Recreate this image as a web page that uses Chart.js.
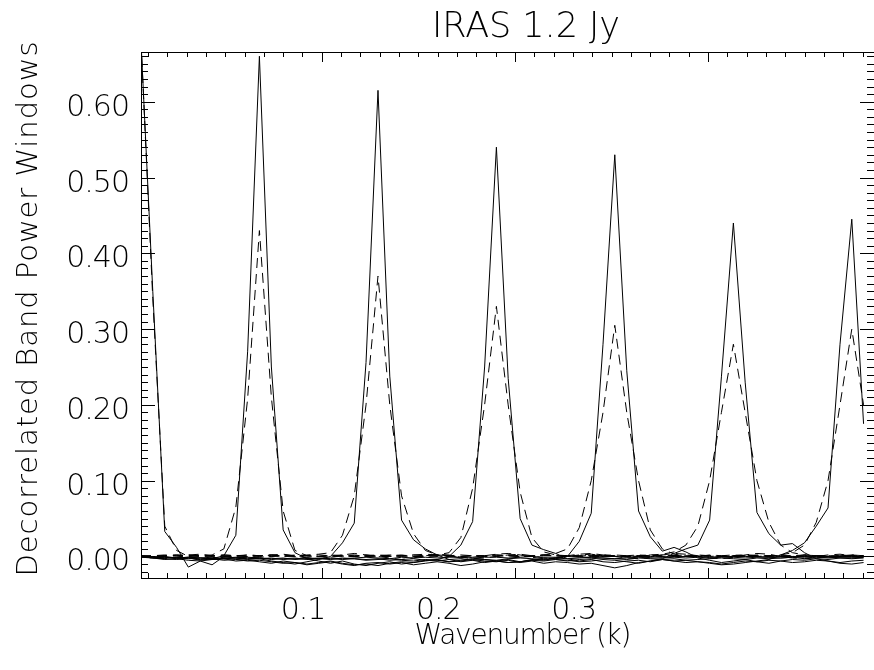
<!DOCTYPE html>
<html>
<head>
<meta charset="utf-8">
<script src="https://cdn.jsdelivr.net/npm/chart.js@4.4.1/dist/chart.umd.min.js"></script>
<style>
  html, body { margin: 0; padding: 0; background: #fff; }
  canvas { display: block; }
</style>
</head>
<body>
<canvas id="windowsChart" width="874" height="670"></canvas>
<script>
// wavenumber grid (k) of the band power windows
const kVals = [
  0.0064, 0.0125, 0.0187, 0.0248, 0.0309, 0.0371, 0.0432, 0.0493, 0.0555, 0.0616,
  0.0677, 0.0739, 0.0800, 0.0861, 0.0923, 0.0984, 0.1045, 0.1107, 0.1168, 0.1229,
  0.1291, 0.1352, 0.1413, 0.1475, 0.1536, 0.1597, 0.1659, 0.1720, 0.1781, 0.1843,
  0.1904, 0.1965, 0.2027, 0.2088, 0.2149, 0.2211, 0.2272, 0.2333, 0.2395, 0.2456,
  0.2517, 0.2579, 0.2640, 0.2701, 0.2763, 0.2824, 0.2885, 0.2947, 0.3008, 0.3069,
  0.3131, 0.3192, 0.3253, 0.3315, 0.3376, 0.3437, 0.3499, 0.3560, 0.3621, 0.3683,
  0.3744, 0.3805
];

// decorrelated windows (solid)
const solidW0 = [
  0.680, 0.350, 0.033, 0.012, -0.014, -0.006, -0.011, 0.000, -0.002, -0.003,
  -0.002, -0.004, -0.003, -0.002, -0.004, -0.003, -0.002, -0.003, -0.002, -0.001,
  -0.002, -0.003, -0.001, -0.002, -0.001, -0.002, -0.001, -0.001, -0.002, -0.001,
  -0.001, -0.002, -0.001, 0.000, -0.001, -0.001, 0.000, -0.001, -0.001, 0.000,
  0.000, -0.001, 0.000, 0.000, -0.001, 0.000, 0.000, 0.000, -0.001, 0.000,
  0.000, 0.000, 0.000, -0.001, 0.000, 0.000, 0.000, 0.000, 0.000, 0.000,
  0.000, 0.000
];
const solidW1 = [
  0.000, -0.002, -0.003, -0.004, -0.002, -0.005, -0.003, 0.001, 0.028, 0.270,
  0.660, 0.250, 0.035, 0.005, -0.003, -0.006, -0.009, -0.006, -0.010, -0.012,
  -0.009, -0.007, -0.010, -0.008, -0.006, -0.004, -0.007, -0.005, -0.003, -0.004,
  -0.005, -0.003, -0.002, -0.003, -0.004, -0.002, -0.003, -0.002, -0.001, -0.002,
  -0.003, -0.002, -0.001, -0.002, -0.002, -0.001, -0.002, -0.001, -0.002, -0.001,
  -0.001, -0.002, -0.001, -0.001, -0.002, -0.001, -0.001, -0.001, -0.002, -0.001,
  -0.001, -0.001
];
const solidW2 = [
  0.000, -0.001, -0.002, -0.001, -0.003, -0.002, -0.004, -0.003, -0.002, -0.004,
  -0.003, -0.006, -0.008, -0.010, -0.007, -0.004, 0.000, 0.018, 0.044, 0.256,
  0.615, 0.238, 0.048, 0.022, 0.010, 0.002, -0.004, -0.007, -0.005, -0.008,
  -0.006, -0.004, -0.007, -0.005, -0.003, -0.004, -0.006, -0.004, -0.003, -0.002,
  -0.003, -0.004, -0.002, -0.003, -0.004, -0.006, -0.005, -0.007, -0.008, -0.010,
  -0.008, -0.006, -0.007, -0.005, -0.006, -0.008, -0.007, -0.005, -0.006, -0.009,
  -0.010, -0.008
];
const solidW3 = [
  -0.001, -0.002, -0.001, -0.003, -0.002, -0.004, -0.003, -0.005, -0.004, -0.006,
  -0.005, -0.007, -0.009, -0.008, -0.010, -0.008, -0.006, -0.009, -0.011, -0.010,
  -0.012, -0.009, -0.007, -0.008, -0.005, -0.004, 0.000, 0.015, 0.046, 0.250,
  0.540, 0.235, 0.050, 0.015, 0.009, 0.004, -0.003, -0.006, -0.004, -0.007,
  -0.008, -0.006, -0.005, -0.007, -0.004, -0.003, -0.005, -0.004, -0.003, -0.002,
  -0.003, -0.004, -0.002, -0.003, -0.002, -0.001, -0.003, -0.002, -0.001, -0.002,
  -0.002, -0.001
];
const solidW4 = [
  0.000, -0.002, -0.004, -0.003, -0.005, -0.006, -0.004, -0.003, -0.006, -0.005,
  -0.007, -0.009, -0.006, -0.008, -0.011, -0.009, -0.007, -0.010, -0.012, -0.009,
  -0.008, -0.010, -0.008, -0.011, -0.009, -0.007, -0.009, -0.012, -0.010, -0.007,
  -0.006, -0.008, -0.007, -0.004, -0.005, -0.002, 0.000, 0.020, 0.057, 0.280,
  0.530, 0.245, 0.060, 0.026, 0.007, 0.012, 0.006, -0.002, -0.005, -0.008,
  -0.006, -0.004, -0.007, -0.009, -0.006, -0.004, -0.005, -0.003, -0.004, -0.002,
  -0.003, -0.002
];
const solidW5 = [
  -0.001, 0.000, -0.001, -0.002, -0.001, -0.002, -0.001, -0.003, -0.002, -0.001,
  -0.002, -0.003, -0.002, -0.004, -0.003, -0.002, -0.003, -0.004, -0.003, -0.005,
  -0.004, -0.003, -0.005, -0.006, -0.004, -0.005, -0.007, -0.006, -0.004, -0.006,
  -0.007, -0.005, -0.008, -0.006, -0.009, -0.007, -0.008, -0.010, -0.009, -0.012,
  -0.015, -0.012, -0.008, -0.006, -0.003, 0.004, 0.010, 0.015, 0.048, 0.237,
  0.440, 0.230, 0.058, 0.030, 0.015, 0.017, 0.005, -0.003, -0.006, -0.008,
  -0.006, -0.005
];
const solidW6 = [
  0.000, -0.001, 0.000, -0.002, -0.001, -0.002, -0.003, -0.002, -0.001, -0.002,
  -0.003, -0.002, -0.004, -0.003, -0.002, -0.003, -0.004, -0.002, -0.003, -0.004,
  -0.003, -0.005, -0.004, -0.003, -0.005, -0.006, -0.004, -0.003, -0.005, -0.004,
  -0.006, -0.008, -0.007, -0.005, -0.006, -0.004, -0.005, -0.007, -0.006, -0.004,
  -0.005, -0.007, -0.009, -0.006, -0.004, -0.006, -0.008, -0.007, -0.009, -0.011,
  -0.010, -0.008, -0.006, -0.004, 0.002, 0.008, 0.018, 0.040, 0.064, 0.280,
  0.445, 0.175
];

// comparison windows (dashed)
const dashW0 = [
  0.680, 0.340, 0.040, 0.008, 0.000, -0.004, -0.002, -0.001, 0.001, 0.000,
  -0.001, 0.000, 0.001, 0.000, -0.001, 0.000, 0.001, 0.000, 0.000, 0.001,
  0.000, 0.000, 0.001, 0.000, 0.000, 0.001, 0.000, 0.000, 0.001, 0.000,
  0.000, 0.001, 0.000, 0.000, 0.001, 0.001, 0.000, 0.001, 0.000, 0.000,
  0.001, 0.000, 0.001, 0.001, 0.000, 0.001, 0.000, 0.001, 0.001, 0.000,
  0.001, 0.001, 0.000, 0.001, 0.001, 0.000, 0.001, 0.001, 0.000, 0.001,
  0.001, 0.001
];
const dashW1 = [
  0.000, 0.001, 0.000, -0.001, 0.000, 0.001, 0.002, 0.010, 0.065, 0.208,
  0.430, 0.210, 0.060, 0.008, 0.001, 0.000, -0.001, 0.001, 0.002, 0.000,
  0.001, 0.002, 0.001, 0.000, 0.001, 0.002, 0.001, 0.000, 0.001, 0.001,
  0.002, 0.001, 0.000, 0.001, 0.002, 0.001, 0.001, 0.000, 0.001, 0.002,
  0.001, 0.000, 0.001, 0.001, 0.002, 0.001, 0.000, 0.001, 0.001, 0.000,
  0.001, 0.002, 0.001, 0.000, 0.001, 0.001, 0.000, 0.001, 0.001, 0.000,
  0.001, 0.001
];
const dashW2 = [
  0.001, 0.000, 0.001, 0.002, 0.001, 0.000, 0.001, 0.002, 0.001, 0.000,
  0.001, 0.002, 0.000, 0.001, 0.002, 0.003, 0.005, 0.028, 0.080, 0.200,
  0.370, 0.200, 0.080, 0.030, 0.008, 0.002, 0.001, -0.002, -0.001, 0.001,
  0.003, 0.004, 0.002, -0.001, -0.003, -0.002, 0.001, 0.003, 0.004, 0.002,
  0.000, -0.002, -0.003, -0.001, 0.002, 0.004, 0.003, 0.001, -0.002, -0.003,
  -0.001, 0.002, 0.004, 0.003, 0.000, -0.002, -0.003, 0.000, 0.002, 0.003,
  0.001, -0.001
];
const dashW3 = [
  0.000, 0.001, 0.002, 0.001, 0.000, 0.002, 0.001, 0.000, 0.001, 0.002,
  0.001, 0.000, 0.002, 0.001, 0.001, 0.000, 0.002, 0.001, 0.000, 0.001,
  0.002, 0.001, 0.000, 0.002, 0.003, 0.002, 0.005, 0.025, 0.090, 0.200,
  0.330, 0.200, 0.085, 0.025, 0.006, 0.002, 0.001, 0.000, 0.002, 0.001,
  0.000, 0.001, 0.002, 0.001, 0.000, 0.001, 0.002, 0.001, 0.000, 0.001,
  0.002, 0.001, 0.000, 0.001, 0.001, 0.000, 0.002, 0.001, 0.001, 0.000,
  0.001, 0.001
];
const dashW4 = [
  0.001, 0.000, 0.001, 0.002, 0.001, 0.001, 0.000, 0.002, 0.001, 0.000,
  0.001, 0.002, 0.001, 0.000, 0.001, 0.002, 0.001, 0.001, 0.000, 0.002,
  0.001, 0.000, 0.001, 0.002, 0.001, 0.000, 0.001, 0.002, 0.001, 0.000,
  0.001, 0.002, 0.001, 0.000, 0.002, 0.004, 0.010, 0.038, 0.100, 0.190,
  0.305, 0.190, 0.100, 0.035, 0.010, 0.003, 0.001, 0.000, 0.002, 0.001,
  0.000, 0.001, 0.002, 0.001, 0.000, 0.001, 0.002, 0.001, 0.000, 0.001,
  0.002, 0.001
];
const dashW5 = [
  0.000, -0.002, -0.003, -0.001, 0.002, 0.003, 0.001, -0.002, -0.004, -0.003,
  0.000, 0.002, 0.003, 0.001, -0.002, -0.003, -0.001, 0.002, 0.004, 0.002,
  0.000, -0.002, -0.004, -0.002, 0.001, 0.003, 0.002, -0.001, -0.003, -0.002,
  0.000, 0.002, 0.003, 0.001, -0.002, -0.003, 0.000, 0.002, 0.003, 0.001,
  0.002, 0.001, 0.000, 0.002, 0.003, 0.006, 0.015, 0.040, 0.100, 0.190,
  0.280, 0.190, 0.100, 0.045, 0.015, 0.005, 0.002, 0.001, 0.000, 0.001,
  0.002, 0.001
];
const dashW6 = [
  0.001, 0.000, 0.001, 0.001, 0.002, 0.000, 0.001, 0.001, 0.000, 0.002,
  0.001, 0.001, 0.000, 0.002, 0.001, 0.000, 0.001, 0.002, 0.001, 0.000,
  0.001, 0.001, 0.002, 0.000, 0.001, 0.002, 0.001, 0.000, 0.001, 0.001,
  0.002, 0.001, 0.000, 0.001, 0.002, 0.001, 0.000, 0.001, 0.001, 0.002,
  0.001, 0.000, 0.001, 0.002, 0.001, 0.001, 0.000, 0.002, 0.001, 0.000,
  0.001, 0.002, 0.001, 0.000, 0.002, 0.005, 0.015, 0.045, 0.100, 0.200,
  0.300, 0.200
];

const yTickLabels = ['0.00', '0.10', '0.20', '0.30', '0.40', '0.50', '0.60'];
const xTickLabels = ['0.1', '0.2', '0.3'];

const solidWindows = [solidW0, solidW1, solidW2, solidW3, solidW4, solidW5, solidW6];
const dashWindows = [dashW0, dashW1, dashW2, dashW3, dashW4, dashW5, dashW6];

const FONT = '"DejaVu Sans", sans-serif';

function makeSet(vals, dashed) {
    return {
        data: vals.map((v, i) => ({x: kVals[i], y: v})),
        borderColor: '#000',
        borderWidth: 1,
        borderDash: dashed ? [10, 6] : [],
        pointRadius: 0,
        tension: 0,
        fill: false
    };
}

// text stretched/squeezed to a target width, like the IDL vector font
function fitText(ctx, txt, cx, y, size, width) {
    ctx.font = '200 ' + size + 'px ' + FONT;
    ctx.letterSpacing = '0px';
    const w = ctx.measureText(txt).width;
    const ls = (width - w) / (txt.length - 1);
    ctx.letterSpacing = ls + 'px';
    ctx.textAlign = 'left';
    ctx.fillText(txt, cx - (w + ls * (txt.length - 1)) / 2, y);
    ctx.letterSpacing = '0px';
}

const idlAxes = {
    id: 'idlAxes',
    afterDraw(chart) {
        const ctx = chart.ctx;
        const a = chart.chartArea;
        const xs = chart.scales.x, xl = chart.scales.xl, ys = chart.scales.y;
        ctx.save();
        ctx.strokeStyle = '#000';
        ctx.fillStyle = '#000';
        ctx.lineWidth = 1;

        // frame
        ctx.strokeRect(Math.round(a.left) + 0.5, Math.round(a.top) + 0.5,
            Math.round(a.right - a.left), Math.round(a.bottom - a.top));

        // x ticks, 0.01 minor / 0.1 major, pointing inward
        ctx.beginPath();
        for (let i = 1; i <= 38; i++) {
            const px = Math.round(xs.getPixelForValue(i / 100)) + 0.5;
            const len = i % 10 === 0 ? 10 : 5;
            ctx.moveTo(px, a.bottom); ctx.lineTo(px, a.bottom - len);
            ctx.moveTo(px, a.top); ctx.lineTo(px, a.top + len);
        }
        // y ticks
        for (let i = -2; i <= 66; i++) {
            const py = Math.round(ys.getPixelForValue(i / 100)) + 0.5;
            const len = i % 10 === 0 ? 14 : 7;
            ctx.moveTo(a.left, py); ctx.lineTo(a.left + len, py);
            ctx.moveTo(a.right, py); ctx.lineTo(a.right - len, py);
        }
        ctx.stroke();

        // y tick labels
        ctx.font = '200 30px ' + FONT;
        ctx.letterSpacing = '-1px';
        ctx.textAlign = 'right';
        ctx.textBaseline = 'alphabetic';
        yTickLabels.forEach(t => {
            const py = ys.getPixelForValue(parseFloat(t));
            ctx.fillText(t, 129, py + 14);
        });

        // x tick labels
        ctx.textAlign = 'center';
        xTickLabels.forEach(t => {
            const px = xl.getPixelForValue(parseFloat(t));
            ctx.fillText(t, px, 619);
        });
        ctx.letterSpacing = '0px';

        // titles
        fitText(ctx, 'IRAS 1.2 Jy', 526, 37, 35, 188);
        fitText(ctx, 'Wavenumber (k)', 523, 644, 28, 217);

        ctx.save();
        ctx.translate(37, 309);
        ctx.rotate(-Math.PI / 2);
        fitText(ctx, 'Decorrelated Band Power Windows', 0, 0, 29, 535);
        ctx.restore();

        ctx.restore();
    }
};

const ctx = document.getElementById('windowsChart').getContext('2d');
const windowsChart = new Chart(ctx, {
    type: 'line',
    data: {
        datasets: solidWindows.map(w => makeSet(w, false))
            .concat(dashWindows.map(w => makeSet(w, true)))
    },
    options: {
        responsive: false,
        animation: false,
        devicePixelRatio: 1,
        // the right frame edge sits just past the picture, as in the original plot
        layout: { padding: { left: 141, top: 52, right: -9, bottom: 92 } },
        plugins: { legend: { display: false }, tooltip: { enabled: false } },
        scales: {
            x: { type: 'linear', min: 0.0064, max: 0.3859, display: false },
            xl: { type: 'linear', axis: 'x', min: -0.0197, max: 0.5219, display: false },
            y: { type: 'linear', min: -0.0284, max: 0.6656, display: false }
        }
    },
    plugins: [idlAxes]
});
</script>
</body>
</html>
